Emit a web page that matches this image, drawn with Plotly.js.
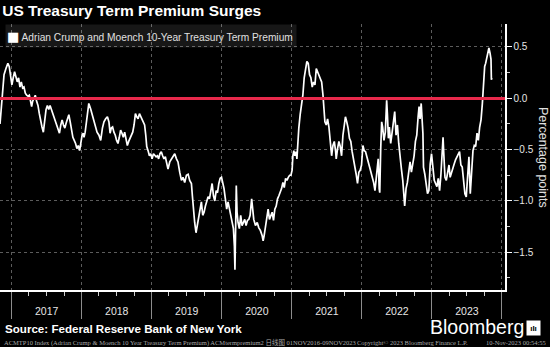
<!DOCTYPE html>
<html>
<head>
<meta charset="utf-8">
<script src="https://cdn.plot.ly/plotly-3.0.1.min.js"></script>
<style>
  html, body { margin: 0; padding: 0; background: #000; }
  #chart { width: 550px; height: 347px; }
</style>
</head>
<body>
<div id="chart"></div>
<script>
// ACM 10-Year Treasury Term Premium (percentage points)
const dates = [
 "2016-11-01","2016-11-10","2016-11-15","2016-11-22","2016-12-02","2016-12-12","2016-12-19","2016-12-26",
 "2017-01-02","2017-01-09","2017-01-16","2017-01-23","2017-01-30","2017-02-06","2017-02-13","2017-02-20","2017-02-27",
 "2017-03-06","2017-03-13","2017-03-20","2017-03-27","2017-04-03","2017-04-10","2017-04-15","2017-04-20","2017-04-27",
 "2017-05-04","2017-05-11","2017-05-18","2017-05-25","2017-06-01","2017-06-08","2017-06-15","2017-06-22","2017-06-29",
 "2017-07-06","2017-07-13","2017-07-20","2017-07-27","2017-08-03","2017-08-10","2017-08-17","2017-08-24","2017-08-31",
 "2017-09-07","2017-09-14","2017-09-21","2017-09-28","2017-10-05","2017-10-12","2017-10-19","2017-10-26","2017-11-02",
 "2017-11-09","2017-11-16","2017-11-23","2017-11-30","2017-12-07","2017-12-14","2017-12-21","2017-12-28",
 "2018-01-03","2018-01-09","2018-01-13","2018-01-19","2018-01-26","2018-02-02","2018-02-07","2018-02-16","2018-02-24",
 "2018-03-05","2018-03-14","2018-03-22","2018-04-01","2018-04-10","2018-04-19","2018-04-27","2018-05-06","2018-05-15",
 "2018-05-23","2018-05-29","2018-06-04","2018-06-11","2018-06-18","2018-06-25","2018-07-02","2018-07-09","2018-07-16",
 "2018-07-23","2018-07-30","2018-08-06","2018-08-13","2018-08-20","2018-08-27","2018-09-03","2018-09-10","2018-09-17",
 "2018-09-24","2018-10-01","2018-10-08","2018-10-15","2018-10-22","2018-10-29","2018-11-05","2018-11-11","2018-11-18",
 "2018-11-25","2018-12-01","2018-12-06","2018-12-13","2018-12-20","2018-12-27",
 "2019-01-03","2019-01-10","2019-01-17","2019-01-24","2019-01-31","2019-02-06","2019-02-13","2019-02-20","2019-02-27",
 "2019-03-06","2019-03-13","2019-03-20","2019-03-27","2019-04-05","2019-04-14","2019-04-22","2019-05-01","2019-05-10",
 "2019-05-18","2019-05-27","2019-06-05","2019-06-13","2019-06-22","2019-07-01","2019-07-10","2019-07-18","2019-07-27",
 "2019-08-01","2019-08-06","2019-08-13","2019-08-20","2019-08-27","2019-09-03","2019-09-10","2019-09-17","2019-09-24",
 "2019-10-01","2019-10-08","2019-10-15","2019-10-22","2019-10-29","2019-11-05","2019-11-12","2019-11-19","2019-11-26",
 "2019-12-03","2019-12-10","2019-12-17","2019-12-24","2019-12-31",
 "2020-01-06","2020-01-13","2020-01-20","2020-01-27","2020-02-03","2020-02-10","2020-02-17","2020-02-24","2020-03-02",
 "2020-03-07","2020-03-10","2020-03-14","2020-03-17","2020-03-21","2020-03-26","2020-04-02","2020-04-09","2020-04-16",
 "2020-04-23","2020-04-30","2020-05-07","2020-05-14","2020-05-21","2020-05-28","2020-06-05","2020-06-16","2020-06-25",
 "2020-07-04","2020-07-12","2020-07-21","2020-07-30","2020-08-04","2020-08-09","2020-08-16","2020-08-23","2020-08-30",
 "2020-09-06","2020-09-13","2020-09-20","2020-09-27","2020-10-04","2020-10-11","2020-10-18","2020-10-25","2020-11-01",
 "2020-11-08","2020-11-15","2020-11-22","2020-11-29","2020-12-06","2020-12-13","2020-12-20","2020-12-27",
 "2021-01-02","2021-01-06","2021-01-11","2021-01-16","2021-01-23","2021-01-27","2021-01-30","2021-02-06","2021-02-13",
 "2021-02-20","2021-02-27","2021-03-06","2021-03-13","2021-03-20","2021-03-27","2021-04-03","2021-04-10","2021-04-17",
 "2021-04-24","2021-05-01","2021-05-08","2021-05-15","2021-05-22","2021-05-29","2021-06-05","2021-06-12","2021-06-17",
 "2021-06-22","2021-06-29","2021-07-06","2021-07-13","2021-07-20","2021-07-27","2021-08-03","2021-08-10","2021-08-17",
 "2021-08-20","2021-08-27","2021-09-03","2021-09-10","2021-09-17","2021-09-24","2021-10-01","2021-10-07","2021-10-14",
 "2021-10-21","2021-10-28","2021-11-04","2021-11-11","2021-11-18","2021-11-25","2021-12-02","2021-12-09","2021-12-16",
 "2021-12-23","2021-12-30",
 "2022-01-06","2022-01-13","2022-01-20","2022-01-27","2022-02-03","2022-02-10","2022-02-17","2022-02-24","2022-03-03",
 "2022-03-10","2022-03-17","2022-03-24","2022-03-27","2022-04-01","2022-04-04","2022-04-09","2022-04-14","2022-04-19",
 "2022-04-26","2022-05-03","2022-05-10","2022-05-14","2022-05-19","2022-05-24","2022-05-31","2022-06-07","2022-06-14",
 "2022-06-21","2022-06-28","2022-07-05","2022-07-12","2022-07-19","2022-07-26","2022-08-02","2022-08-09","2022-08-12",
 "2022-08-19","2022-08-26","2022-09-02","2022-09-09","2022-09-16","2022-09-23","2022-09-30","2022-10-07","2022-10-14",
 "2022-10-21","2022-10-26","2022-10-31","2022-11-06","2022-11-15","2022-11-18","2022-11-25","2022-12-02","2022-12-09",
 "2022-12-16","2022-12-23","2022-12-30",
 "2023-01-06","2023-01-13","2023-01-20","2023-01-27","2023-02-03","2023-02-10","2023-02-17","2023-02-24","2023-02-28",
 "2023-03-03","2023-03-10","2023-03-17","2023-03-24","2023-03-31","2023-04-06","2023-04-13","2023-04-20","2023-04-27",
 "2023-05-04","2023-05-11","2023-05-18","2023-05-25","2023-06-01","2023-06-08","2023-06-15","2023-06-22","2023-06-29",
 "2023-07-06","2023-07-13","2023-07-20","2023-07-27","2023-08-03","2023-08-10","2023-08-17","2023-08-24","2023-08-31",
 "2023-09-07","2023-09-14","2023-09-21","2023-09-25","2023-09-28","2023-10-03","2023-10-08","2023-10-15","2023-10-20",
 "2023-10-25","2023-10-31","2023-11-05","2023-11-07","2023-11-09"
];
const termPremium = [
 -0.25,0.00,0.11,0.23,0.29,0.34,0.31,0.23,
 0.13,0.20,0.26,0.21,0.16,0.20,0.11,0.16,0.10,
 0.11,0.05,0.03,0.02,0.03,-0.03,-0.08,-0.03,0.00,
 0.03,-0.03,-0.07,-0.15,-0.23,-0.28,-0.33,-0.23,-0.11,
 -0.07,-0.11,-0.07,-0.11,-0.15,-0.18,-0.21,-0.25,-0.29,
 -0.34,-0.26,-0.21,-0.26,-0.29,-0.24,-0.20,-0.16,-0.23,
 -0.33,-0.38,-0.41,-0.44,-0.49,-0.46,-0.51,-0.42,
 -0.36,-0.34,-0.38,-0.33,-0.23,-0.10,-0.05,-0.10,-0.16,
 -0.21,-0.28,-0.33,-0.36,-0.41,-0.29,-0.23,-0.20,-0.18,
 -0.23,-0.34,-0.29,-0.28,-0.33,-0.36,-0.41,-0.44,-0.38,
 -0.31,-0.34,-0.38,-0.33,-0.41,-0.46,-0.42,-0.39,-0.36,
 -0.33,-0.26,-0.15,-0.18,-0.20,-0.15,-0.18,-0.21,-0.23,
 -0.26,-0.36,-0.47,-0.51,-0.56,-0.54,
 -0.59,-0.54,-0.56,-0.57,-0.56,-0.59,-0.54,-0.52,-0.56,
 -0.59,-0.57,-0.64,-0.69,-0.62,-0.59,-0.56,-0.54,-0.59,
 -0.62,-0.72,-0.80,-0.77,-0.82,-0.75,-0.74,-0.80,-0.83,
 -0.95,-1.08,-1.21,-1.31,-1.24,-1.19,-1.11,-1.01,-1.14,
 -1.11,-1.05,-1.01,-0.96,-0.98,-0.92,-0.83,-0.95,-1.00,
 -0.90,-0.92,-0.83,-0.78,-0.77,
 -0.82,-0.88,-0.98,-1.08,-1.01,-1.08,-1.14,-1.21,-1.27,
 -1.44,-1.67,-1.21,-0.85,-1.11,-1.21,-1.27,-1.14,-1.24,
 -1.21,-1.18,-1.24,-1.19,-1.18,-1.14,-0.98,-1.18,-1.24,
 -1.21,-1.26,-1.29,-1.34,-1.39,-1.34,-1.24,-1.18,-1.08,
 -1.18,-1.14,-1.11,-1.19,-1.08,-1.05,-0.98,-0.95,-0.92,
 -0.88,-0.82,-0.87,-0.78,-0.80,-0.77,-0.75,-0.75,
 -0.70,-0.56,-0.51,-0.56,-0.52,-0.59,-0.46,-0.29,-0.16,
 -0.07,0.03,0.20,0.29,0.36,0.34,0.23,0.20,0.11,
 0.16,0.13,0.29,0.26,0.23,0.20,0.16,0.03,-0.07,
 -0.23,-0.26,-0.20,-0.28,-0.39,-0.56,-0.46,-0.42,-0.52,
 -0.59,-0.49,-0.42,-0.47,-0.56,-0.36,-0.23,-0.18,-0.23,
 -0.29,-0.39,-0.42,-0.52,-0.59,-0.64,-0.74,-0.83,-0.72,
 -0.70,-0.65,
 -0.46,-0.51,-0.52,-0.59,-0.62,-0.67,-0.72,-0.75,-0.82,
 -0.90,-0.78,-0.65,-0.59,-0.88,-0.92,-0.49,-0.23,-0.28,
 -0.41,-0.33,-0.02,-0.16,-0.39,-0.28,-0.44,-0.34,-0.23,
 -0.13,-0.36,-0.26,-0.44,-0.59,-0.69,-0.80,-1.01,-1.05,
 -0.88,-0.82,-0.72,-0.62,-0.72,-0.65,-0.56,-0.42,-0.36,
 -0.18,-0.08,-0.20,-0.05,-0.34,-0.67,-0.74,-0.83,-0.93,
 -0.90,-0.64,-0.54,
 -0.67,-0.80,-0.83,-0.86,-0.78,-0.90,-0.74,-0.47,-0.38,
 -0.51,-0.77,-0.80,-0.70,-0.65,-0.77,-0.72,-0.67,-0.64,
 -0.60,-0.57,-0.54,-0.52,-0.65,-0.67,-0.80,-0.93,-0.96,
 -0.74,-0.57,-0.93,-0.67,-0.51,-0.46,-0.47,-0.34,-0.41,
 -0.28,-0.21,-0.05,0.08,0.25,0.31,0.34,0.41,0.47,
 0.49,0.44,0.38,0.18,0.20
];
const seriesName = "Adrian Crump and Moench 10-Year Treasury Term Premium";
const chartTitle = "US Treasury Term Premium Surges";
const yTitle = "Percentage points";
const sourceText = "Source: Federal Reserve Bank of New York";
const footerLeft = "ACMTP10 Index (Adrian Crump &amp; Moench 10 Year Treasury Term Premium) ACMtermpremium2 日线图 01NOV2016-09NOV2023";
const footerMid = "Copyright© 2023 Bloomberg Finance L.P.";
const footerRight = "10-Nov-2023 00:54:55";

const W = 550, H = 347;
const M = {l: 0, r: 45, t: 24, b: 57};
const PW = W - M.l - M.r, PH = H - M.t - M.b;
const px = x => (x - M.l) / PW;
const py = y => (H - M.b - y) / PH;

const trace = {
  type: 'scatter', mode: 'lines', name: seriesName,
  x: dates, y: termPremium,
  line: {color: '#ffffff', width: 1.7},
  hoverinfo: 'skip', showlegend: false
};

const gridCol = '#5c5c5c';
const layout = {
  width: W, height: H,
  margin: M,
  paper_bgcolor: '#000', plot_bgcolor: '#000',
  showlegend: false,
  font: {family: 'Liberation Sans, Arial, sans-serif', color: '#e6e6e6'},
  title: {
    text: '<b>' + chartTitle + '</b>',
    font: {family: 'Liberation Sans, Arial, sans-serif', size: 15.5, color: '#ffffff'},
    xref: 'container', x: 0.004, xanchor: 'left',
    yref: 'container', y: 1 - 11 / H, yanchor: 'middle'
  },
  xaxis: {
    type: 'date',
    range: ['2016-11-01', '2024-01-17'],
    dtick: 'M12', tick0: '2017-01-01', tickformat: '%Y', ticklabelmode: 'period',
    ticks: 'outside', ticklen: 27, tickwidth: 1, tickcolor: '#8c8c8c',
    ticklabelstandoff: -16,
    tickfont: {size: 10.5, color: '#e6e6e6'},
    showgrid: true, gridcolor: gridCol, griddash: 'dot', gridwidth: 1,
    showline: true, linecolor: '#ffffff', linewidth: 1.5,
    zeroline: false,
    minor: {dtick: 'M3', ticks: 'outside', ticklen: 4, tickcolor: '#cfcfcf', showgrid: false}
  },
  yaxis: {
    side: 'right',
    range: [-1.868, 0.724],
    dtick: 0.5, tick0: 0, tickformat: '.1f',
    ticks: 'outside', ticklen: 5, tickwidth: 1, tickcolor: '#ffffff',
    tickfont: {size: 10, color: '#e6e6e6'},
    showgrid: true, gridcolor: gridCol, griddash: 'dot', gridwidth: 1,
    showline: true, linecolor: '#ffffff', linewidth: 1.5,
    zeroline: true, zerolinecolor: '#e8294b', zerolinewidth: 3,
    zerolinelayer: 'above traces',
    minor: {dtick: 0.25, ticks: 'outside', ticklen: 3, tickcolor: '#cfcfcf', showgrid: false}
  },
  annotations: [
    { // legend box
      xref: 'paper', yref: 'paper', x: px(5), y: 1, xanchor: 'left', yanchor: 'top',
      width: 288, height: 20, align: 'left', valign: 'middle', borderpad: 1,
      bgcolor: 'rgba(255,255,255,0.09)', showarrow: false,
      text: '<span style="font-family:DejaVu Sans;font-size:13px;color:#ffffff">■</span> ' + seriesName,
      font: {size: 10.2, color: '#e0e0e0'}
    },
    { // y axis title
      xref: 'paper', yref: 'paper', x: px(543), y: py(157), xanchor: 'center', yanchor: 'middle',
      textangle: 90, showarrow: false, text: yTitle,
      font: {size: 12.5, color: '#e0e0e0'}
    },
    { // source
      xref: 'paper', yref: 'paper', x: px(3), y: py(328), xanchor: 'left', yanchor: 'middle',
      showarrow: false, text: '<b>' + sourceText + '</b>',
      font: {size: 11.6, color: '#ffffff'}
    },
    { // Bloomberg wordmark
      xref: 'paper', yref: 'paper', x: px(477), y: py(327), xanchor: 'center', yanchor: 'middle',
      showarrow: false, text: 'Bloomberg',
      font: {size: 19.5, color: '#ffffff'}
    },
    { // logo icon
      xref: 'paper', yref: 'paper', x: px(533.5), y: py(327.5), xanchor: 'center', yanchor: 'middle',
      showarrow: false, width: 12, height: 13, bgcolor: '#ffffff', borderpad: 0.5,
      text: '<b>ıIı</b>', font: {size: 8, color: '#000000'}
    },
    { // footer
      xref: 'paper', yref: 'paper', x: px(2), y: py(342), xanchor: 'left', yanchor: 'middle',
      showarrow: false, text: footerLeft,
      font: {family: 'Liberation Serif, Noto Sans CJK SC, serif', size: 6.5, color: '#a8a8a8'}
    },
    {
      xref: 'paper', yref: 'paper', x: px(355), y: py(342), xanchor: 'left', yanchor: 'middle',
      showarrow: false, text: footerMid,
      font: {family: 'Liberation Serif, serif', size: 6.5, color: '#a8a8a8'}
    },
    {
      xref: 'paper', yref: 'paper', x: px(548), y: py(342), xanchor: 'right', yanchor: 'middle',
      showarrow: false, text: footerRight,
      font: {family: 'Liberation Serif, serif', size: 6.5, color: '#a8a8a8'}
    }
  ]
};

Plotly.newPlot('chart', [trace], layout, {staticPlot: true, displayModeBar: false});
</script>
</body>
</html>
